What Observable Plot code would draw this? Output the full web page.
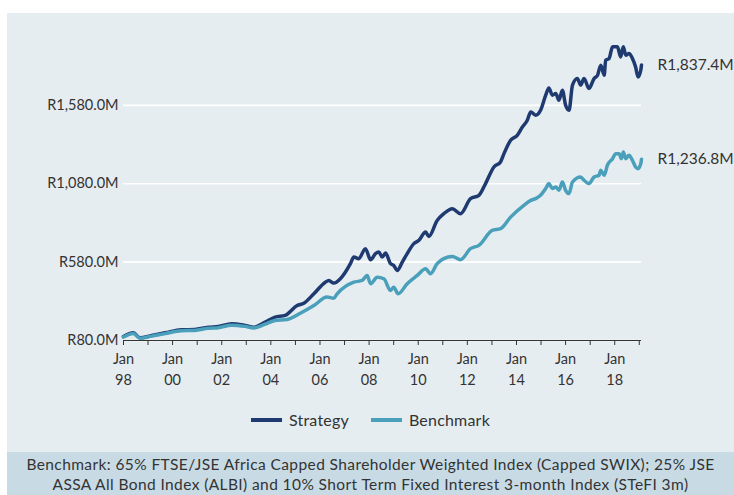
<!DOCTYPE html>
<html><head><meta charset="utf-8">
<script src="https://cdn.jsdelivr.net/npm/d3@7"></script>
<script src="https://cdn.jsdelivr.net/npm/@observablehq/plot@0.6"></script>
<style>
body{margin:0;background:#fff;font-family:Lato,sans-serif;color:#333;}
#wrap{position:absolute;left:7px;top:13px;width:727px;height:482px;background:#e6edf1;overflow:hidden;}
#chart{position:absolute;left:0;top:0;}
#legend{position:absolute;top:397px;left:0;width:100%;display:flex;justify-content:center;gap:22px;font-size:16px;letter-spacing:0.2px;}
#legend .item{display:flex;align-items:center;gap:7px;}
#legend .sw{width:31px;height:4px;display:inline-block;}
#caption{position:absolute;left:0;top:439px;width:727px;height:43px;background:#c8dbe5;text-align:center;font-size:15.5px;letter-spacing:0.4px;line-height:19.5px;padding-top:3px;box-sizing:border-box;white-space:nowrap;}
</style>
</head><body>
<div id="wrap">
  <div id="chart"></div>
  <div id="legend"></div>
  <div id="caption"></div>
</div>
<script>
const seriesNames = ["Strategy", "Benchmark"];
const seriesColors = ["#1e3a70", "#4aa0bb"];
const yTicks = [80, 580, 1080, 1580];
const captionLines = [
  "Benchmark: 65% FTSE/JSE Africa Capped Shareholder Weighted Index (Capped SWIX); 25% JSE",
  "ASSA All Bond Index (ALBI) and 10% Short Term Fixed Interest 3-month Index (STeFI 3m)"
];

// decimal-year positions and values (R millions)
const strategyT = [1998.0,1998.4,1998.67,1999.15,1999.7,2000.37,2000.9,2001.45,2001.86,2002.4,2002.95,2003.3,2003.77,2004.17,2004.58,2005.07,2005.34,2005.75,2006.22,2006.36,2006.56,2006.83,2007.24,2007.38,2007.58,2007.85,2008.06,2008.26,2008.4,2008.53,2008.67,2008.87,2009.0,2009.14,2009.35,2009.55,2009.82,2010.03,2010.3,2010.43,2010.77,2011.04,2011.39,2011.72,2012.13,2012.47,2012.74,2013.08,2013.35,2013.49,2013.76,2014.03,2014.24,2014.44,2014.58,2014.78,2014.98,2015.19,2015.32,2015.46,2015.6,2015.73,2015.87,2016.0,2016.14,2016.28,2016.48,2016.61,2016.75,2016.95,2017.16,2017.3,2017.43,2017.57,2017.63,2017.77,2017.91,2018.11,2018.24,2018.35,2018.45,2018.58,2018.72,2018.85,2018.95,2019.06,2019.09];
const strategyV = [105,129,97,112,129,148,150,165,169,187,176,165,197,229,240,303,318,378,452,463,446,474,570,612,602,666,595,634,644,612,638,570,559,527,580,634,698,719,772,744,846,889,921,889,985,1006,1081,1187,1219,1272,1357,1389,1442,1485,1538,1517,1549,1645,1691,1645,1655,1613,1677,1581,1549,1709,1751,1709,1751,1687,1751,1772,1836,1772,1868,1879,1953,1953,1889,1953,1900,1911,1879,1825,1761,1804,1837.4];

const benchmarkT = [1998.0,1998.4,1998.67,1999.15,1999.7,2000.37,2000.9,2001.45,2001.86,2002.4,2002.95,2003.3,2003.77,2004.17,2004.66,2005.2,2005.75,2006.29,2006.56,2006.7,2007.38,2007.72,2007.92,2008.06,2008.33,2008.6,2008.87,2009.0,2009.18,2009.55,2009.96,2010.3,2010.5,2010.77,2011.04,2011.39,2011.72,2012.13,2012.47,2013.01,2013.35,2013.76,2014.3,2014.58,2014.78,2014.98,2015.19,2015.32,2015.46,2015.6,2015.73,2015.87,2016.0,2016.14,2016.28,2016.61,2016.75,2016.95,2017.16,2017.36,2017.43,2017.57,2017.7,2017.91,2018.04,2018.18,2018.27,2018.35,2018.45,2018.58,2018.72,2018.85,2018.95,2019.06,2019.09];
const benchmarkV = [102,125,94,108,124,142,144,158,162,178,170,160,184,208,214,254,303,357,350,378,452,463,495,442,484,474,399,420,378,442,495,538,506,570,602,616,595,666,687,782,793,867,942,974,985,1006,1049,1081,1049,1059,1038,1091,1038,1017,1091,1123,1102,1081,1123,1134,1166,1134,1198,1240,1272,1272,1240,1283,1240,1261,1229,1187,1176,1208,1236.8];

function toDate(t) {
  const y = Math.floor(t);
  const a = Date.UTC(y, 0, 1), b = Date.UTC(y + 1, 0, 1);
  return new Date(a + (t - y) * (b - a));
}

const rows = [];
strategyT.forEach((t, i) => rows.push({series: seriesNames[0], date: toDate(t), value: strategyV[i]}));
benchmarkT.forEach((t, i) => rows.push({series: seriesNames[1], date: toDate(t), value: benchmarkV[i]}));
const lastRows = [
  {series: seriesNames[0], date: toDate(strategyT[strategyT.length-1]), value: strategyV[strategyV.length-1]},
  {series: seriesNames[1], date: toDate(benchmarkT[benchmarkT.length-1]), value: benchmarkV[benchmarkV.length-1]}
];

const xStart = toDate(strategyT[0]);
const xEnd = toDate(strategyT[strategyT.length-1]);
const yearTicks = d3.range(1998, 2020).map(y => new Date(Date.UTC(y, 0, 1)));
const fmtR = v => "R" + d3.format(",.1f")(v) + "M";

const chart = Plot.plot({
  width: 727,
  height: 395,
  marginLeft: 116,
  marginRight: 93,
  marginTop: 26,
  marginBottom: 68,
  style: {background: "transparent", fontFamily: "Lato, sans-serif", fontSize: "14px", color: "#333"},
  x: {type: "utc", domain: [xStart, xEnd]},
  y: {domain: [80, 2000]},
  color: {domain: seriesNames, range: seriesColors},
  marks: [
    Plot.gridY(yTicks, {stroke: "#ffffff", strokeOpacity: 1, strokeWidth: 1.6}),
    Plot.axisY(yTicks, {tickSize: 0, tickPadding: 5, tickFormat: fmtR, fontSize: 14.5, label: null}),
    Plot.ruleY([80], {stroke: "#333", strokeWidth: 1}),
    Plot.axisX(yearTicks, {tickSize: 5, tickPadding: 4, stroke: "#333", fontSize: 14.5, lineHeight: 1.42, label: null,
      tickFormat: d => d.getUTCFullYear() % 2 === 0 ? "Jan\n" + String(d.getUTCFullYear()).slice(2) : ""}),
    Plot.lineY(rows, {x: "date", y: "value", z: "series", stroke: "series", strokeWidth: 3.5, curve: "monotone-x"}),
    Plot.text(lastRows, {x: "date", y: "value", text: d => fmtR(d.value), dx: 16, textAnchor: "start", fontSize: 15.5, fill: "#333"})
  ]
});
document.getElementById("chart").appendChild(chart);

const legend = document.getElementById("legend");
seriesNames.forEach((n, i) => {
  const it = document.createElement("span");
  it.className = "item";
  it.innerHTML = `<span class="sw" style="background:${seriesColors[i]}"></span><span>${n}</span>`;
  legend.appendChild(it);
});
document.getElementById("caption").innerHTML = captionLines.join("<br>");
</script>
</body></html>
